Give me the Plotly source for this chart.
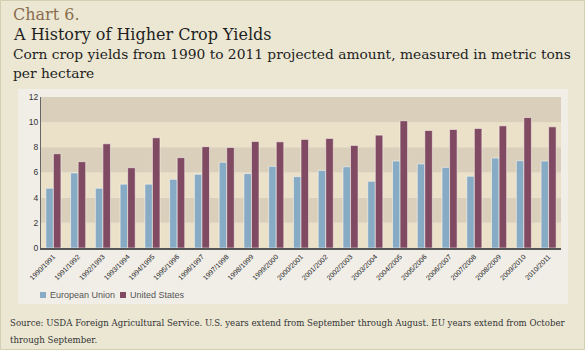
import plotly.graph_objects as go

seasons = ["1990/1991", "1991/1992", "1992/1993", "1993/1994", "1994/1995", "1995/1996",
           "1996/1997", "1997/1998", "1998/1999", "1999/2000", "2000/2001", "2001/2002",
           "2002/2003", "2003/2004", "2004/2005", "2005/2006", "2006/2007", "2007/2008",
           "2008/2009", "2009/2010", "2010/2011"]
eu_yield = [4.75, 5.96, 4.75, 5.07, 5.07, 5.46, 5.86, 6.81, 5.91, 6.49, 5.67, 6.17,
            6.46, 5.30, 6.91, 6.68, 6.41, 5.70, 7.15, 6.94, 6.91]
us_yield = [7.49, 6.86, 8.28, 6.38, 8.76, 7.18, 8.05, 7.99, 8.47, 8.44, 8.63, 8.71,
            8.15, 8.97, 10.11, 9.34, 9.42, 9.50, 9.71, 10.37, 9.63]
y_ticks = [0, 2, 4, 6, 8, 10, 12]
series_names = ["European Union", "United States"]

EU_COLOR = "#88abc5"
US_COLOR = "#7f4a62"
OUTER_BG = "#ebe7d3"
PANEL_BG = "#f1eee8"
BAND_LIGHT = "#ebe0c8"
BAND_DARK = "#d9cfba"

W, H = 585, 350
L, R, T, B = 41, 561, 97, 248


def px(x):
    return (x - L) / (R - L)


def py(y):
    return (B - y) / (B - T)


fig = go.Figure()
fig.add_trace(go.Bar(x=seasons, y=eu_yield, name=series_names[0],
                     marker=dict(color=EU_COLOR, line=dict(color="rgba(255,250,240,0.55)", width=1)),
                     showlegend=False))
fig.add_trace(go.Bar(x=seasons, y=us_yield, name=series_names[1],
                     marker=dict(color=US_COLOR, line=dict(color="rgba(255,250,240,0.55)", width=1)),
                     showlegend=False))

shapes = []
# outer border
shapes.append(dict(type="rect", xref="paper", yref="paper", x0=px(0.5), x1=px(584.5), y0=py(349.5), y1=py(0.5),
                   line=dict(color="#d3cfb3", width=1), fillcolor=OUTER_BG, layer="below"))
# inner panel
shapes.append(dict(type="rect", xref="paper", yref="paper", x0=px(18), x1=px(568), y0=py(304), y1=py(89),
                   line=dict(width=0), fillcolor=PANEL_BG, layer="below"))
# bands
for i in range(len(y_ticks) - 1):
    shapes.append(dict(type="rect", xref="paper", yref="y", x0=0, x1=1, y0=y_ticks[i], y1=y_ticks[i + 1],
                       line=dict(width=0), fillcolor=BAND_DARK if i % 2 == 1 else BAND_LIGHT, layer="below"))
# legend squares
shapes.append(dict(type="rect", xref="paper", yref="paper", x0=px(40), x1=px(46), y0=py(298), y1=py(292),
                   line=dict(width=0), fillcolor=EU_COLOR))
shapes.append(dict(type="rect", xref="paper", yref="paper", x0=px(120), x1=px(126), y0=py(298), y1=py(292),
                   line=dict(width=0), fillcolor=US_COLOR))

serif = "DejaVu Serif"
annotations = [
    dict(text="Chart 6.", x=px(11), y=py(15), font=dict(family=serif, size=16, color="#8a6d4e")),
    dict(text="A History of Higher Crop Yields", x=px(11), y=py(34), font=dict(family=serif, size=16, color="#1e1e1e")),
    dict(text="Corn crop yields from 1990 to 2011 projected amount, measured in metric tons",
         x=px(11), y=py(54), font=dict(family=serif, size=13.8, color="#1e1e1e")),
    dict(text="per hectare", x=px(11), y=py(73), font=dict(family=serif, size=13.8, color="#1e1e1e")),
    dict(text="Source: USDA Foreign Agricultural Service. U.S. years extend from September through August. EU years extend from October",
         x=px(8), y=py(323), font=dict(family=serif, size=8.6, color="#333333")),
    dict(text="through September.", x=px(8), y=py(340), font=dict(family=serif, size=8.6, color="#333333")),
    dict(text=series_names[0], x=px(48), y=py(295), font=dict(family="Liberation Sans", size=9, color="#555555")),
    dict(text=series_names[1], x=px(128), y=py(295), font=dict(family="Liberation Sans", size=9, color="#555555")),
]
for a in annotations:
    a.update(xref="paper", yref="paper", xanchor="left", yanchor="middle", showarrow=False)

fig.update_layout(
    width=W, height=H,
    margin=dict(l=L, r=W - R, t=T, b=H - B, pad=0),
    paper_bgcolor=OUTER_BG,
    plot_bgcolor=BAND_LIGHT,
    barmode="group", bargap=0.39, bargroupgap=0,
    shapes=shapes, annotations=annotations,
    showlegend=False,
    xaxis=dict(showline=True, linecolor="#555555", linewidth=2, showgrid=False, ticks="",
               tickangle=-45, tickfont=dict(family="Liberation Sans", size=7, color="#222222"),
               fixedrange=True),
    yaxis=dict(range=[0, 12], tickvals=y_ticks, showline=True, linecolor="#666666", linewidth=1,
               showgrid=False, zeroline=False, ticks="",
               tickfont=dict(family="Liberation Sans", size=8.5, color="#333333"), fixedrange=True),
)

fig.write_html("out.html")
